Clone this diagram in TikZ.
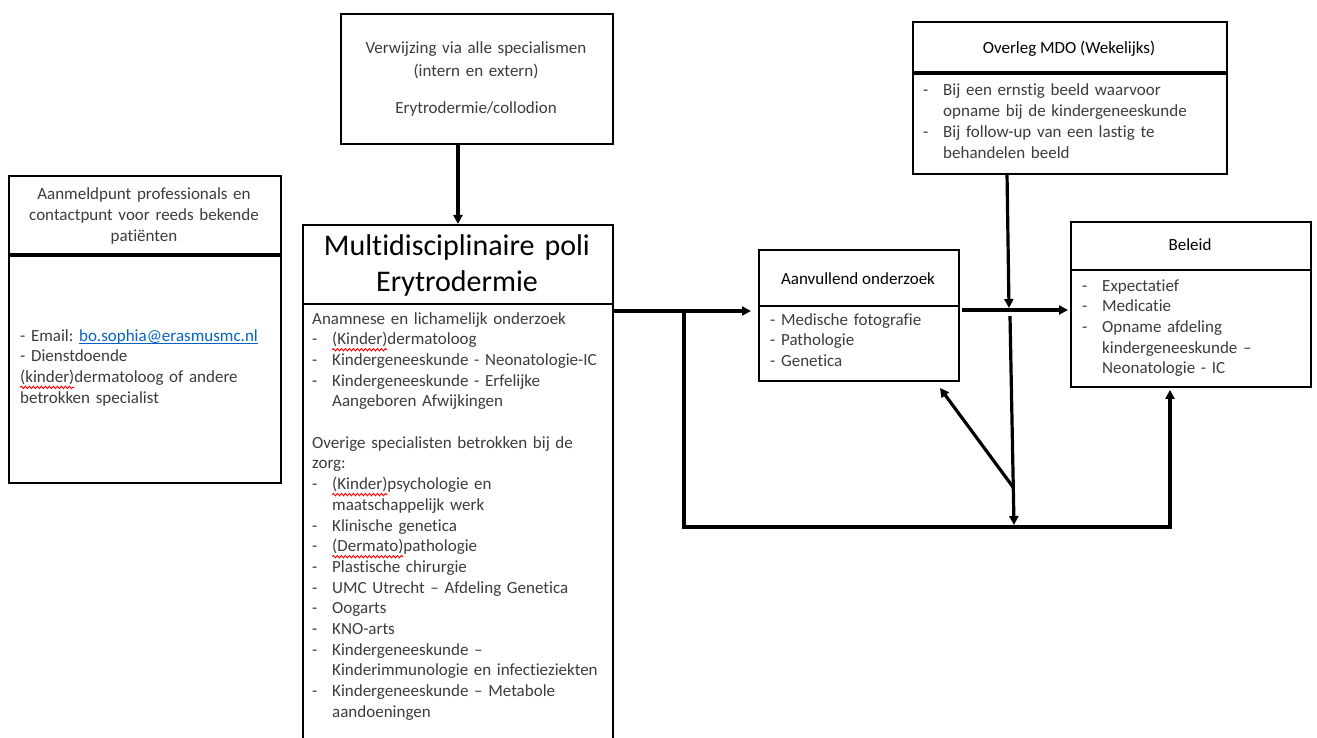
\documentclass[tikz,border=0pt]{standalone}
\usepackage{fontspec}
\setmainfont{Carlito}[RawFeature={-liga;-clig;-dlig;-calt;-rlig}]
\usetikzlibrary{arrows.meta,decorations.pathmorphing}
\frenchspacing
\definecolor{bodytext}{HTML}{3C3C3C}
\definecolor{linkblue}{HTML}{0563C1}
\newcommand\redwave[1]{\tikz[baseline=(rw.base)]{\node[inner sep=0pt, outer sep=0pt, anchor=base] (rw) at (0,0) {#1};
  \draw[overlay, red, line width=0.9pt, decorate, decoration={snake, amplitude=1.2pt, segment length=4pt}] ([yshift=-5pt]rw.base west) -- ([yshift=-5pt]rw.base east);}}
\newcommand\ulink[1]{\textcolor{linkblue}{\setbox0\hbox{#1}\rlap{\rule[-2.8pt]{\wd0}{1pt}}\box0}}
\newcommand\bitem{\makebox[20pt][l]{-}}
\newcommand\bcont{\hspace*{20pt}}
\begin{document}
\begin{tikzpicture}[x=1pt,y=-1pt,
  box/.style={draw=black, line width=1.9pt, rectangle, inner sep=0pt, anchor=north west},
  conn/.style={line width=3.2pt, -{Triangle[length=9pt,width=9pt]}},
  body/.style={inner sep=0pt, anchor=base west, align=left, text=bodytext, font=\fontsize{17}{20.7}\selectfont\frenchspacing},
  ttl/.style={inner sep=0pt, anchor=base, align=center, font=\fontsize{17}{20.7}\selectfont\frenchspacing},
]
\fill[white] (0,0) rectangle (1317,738);
\useasboundingbox (0,0) rectangle (1317,738);
\clip (0,0) rectangle (1317,738);

% boxes
\node[box, minimum width=272pt, minimum height=307pt] (aanm) at (8,175) {};
\draw[line width=3.2pt] (aanm.west |- 0,255) -- (aanm.east |- 0,255);
\node[box, minimum width=272pt, minimum height=130pt] (ref) at (340,13) {};
\node[box, minimum width=310pt, minimum height=530pt] (ctr) at (302,224) {};
\draw[line width=1.5pt] (ctr.west |- 0,304) -- (ctr.east |- 0,304);
\node[box, minimum width=200pt, minimum height=131pt] (aan) at (758,249) {};
\draw[line width=1.8pt] (aan.west |- 0,306) -- (aan.east |- 0,306);
\node[box, minimum width=314pt, minimum height=152pt] (mdo) at (912,21) {};
\draw[line width=3.2pt] (mdo.west |- 0,73) -- (mdo.east |- 0,73);
\node[box, minimum width=240pt, minimum height=165pt] (bel) at (1070,221) {};
\draw[line width=2.2pt] (bel.west |- 0,270) -- (bel.east |- 0,270);

% texts
\node[ttl, text width=272pt, text=bodytext] (aanmT) at (144,200) {Aanmeldpunt professionals en\\contactpunt voor reeds bekende\\patiënten};
\node[body, text width=255pt] (aanmB) at (20,341) {- Email: \ulink{bo.sophia@erasmusmc.nl}\\- Dienstdoende\\\redwave{(kinder)}dermatoloog of andere\\betrokken specialist};

\node[ttl, text width=272pt, text=bodytext, font=\fontsize{17}{22.4}\selectfont] (refT) at (476,54) {Verwijzing via alle specialismen\\(intern en extern)\\[15pt]Erytrodermie/collodion};

\node[ttl, text width=310pt, font=\fontsize{30}{36.5}\selectfont] (ctrT) at (457,255) {Multidisciplinaire poli\\Erytrodermie};
\node[body, text width=295pt] (ctrB) at (312,324) {Anamnese en lichamelijk onderzoek\\
\bitem\redwave{(Kinder)}dermatoloog\\
\bitem Kindergeneeskunde - Neonatologie-IC\\
\bitem Kindergeneeskunde - Erfelijke\\
\bcont Aangeboren Afwijkingen\\
\mbox{}\\
Overige specialisten betrokken bij de\\
zorg:\\
\bitem\redwave{(Kinder)}psychologie en\\
\bcont maatschappelijk werk\\
\bitem Klinische genetica\\
\bitem\redwave{(Dermato)}pathologie\\
\bitem Plastische chirurgie\\
\bitem UMC Utrecht – Afdeling Genetica\\
\bitem Oogarts\\
\bitem KNO-arts\\
\bitem Kindergeneeskunde –\\
\bcont Kinderimmunologie en infectieziekten\\
\bitem Kindergeneeskunde – Metabole\\
\bcont aandoeningen};

\node[ttl] (aanT) at (858,284) {Aanvullend onderzoek};
\node[body, text width=188pt] (aanB) at (770,325) {- Medische fotografie\\- Pathologie\\- Genetica};

\node[ttl] (mdoT) at (1069,54) {Overleg MDO (Wekelijks)};
\node[body, text width=295pt] (mdoB) at (923,96) {\bitem Bij een ernstig beeld waarvoor\\
\bcont opname bij de kindergeneeskunde\\
\bitem Bij follow-up van een lastig te\\
\bcont behandelen beeld};

\node[ttl] (belT) at (1190,251) {Beleid};
\node[body, text width=220pt] (belB) at (1082,291) {\bitem Expectatief\\
\bitem Medicatie\\
\bitem Opname afdeling\\
\bcont kindergeneeskunde –\\
\bcont Neonatologie - IC};

% connectors
\coordinate (j1) at (684,311);
\coordinate (bl) at (1170,527);
\coordinate (j2) at (962,310);
\coordinate (mtop) at (1007,173);
\coordinate (mhit) at (1009,308);
\coordinate (vtop) at (1010,316);
\coordinate (vbot) at (1014,525);
\coordinate (dstart) at (1013,487);
\coordinate (dtip) at (940,388);

\draw[conn] (ref.south -| ctr.north) -- (ctr.north);
\draw[conn, shorten >=7pt] (ctr.east |- j1) -- (aan.west |- j1);
\draw[conn, shorten >=2pt] (j1) |- (bl) -- (bl |- bel.south);
\draw[conn, shorten >=2pt] (j2) -- (bel.west |- j2);
\draw[conn] (mtop) -- (mhit);
\draw[conn] (vtop) -- (vbot);
\draw[conn] (dstart) -- (dtip);
\end{tikzpicture}
\end{document}
